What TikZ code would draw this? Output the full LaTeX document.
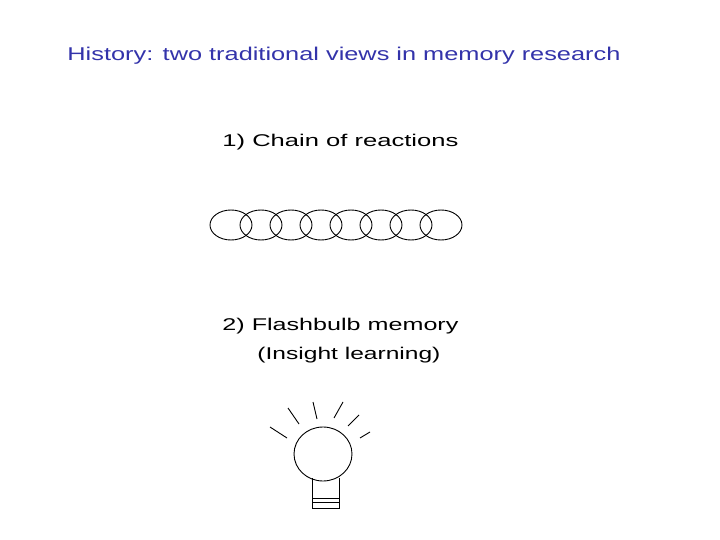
\documentclass[tikz,border=0pt]{standalone}
\usepackage{fontspec}
\usepackage{graphicx}
\setmainfont{Liberation Sans}
\definecolor{ttl}{RGB}{51,51,170}
\begin{document}
\begin{tikzpicture}[x=1pt,y=-1pt,line width=0.9pt,
 lbl/.style={anchor=west,inner sep=0pt,font=\fontsize{17}{20}\selectfont}]
\useasboundingbox (0,0) rectangle (720,540);
\node[lbl,text=ttl,font=\fontsize{18.5}{22}\selectfont] (title) at (67,56) {\resizebox{553pt}{\height}{History: two traditional views in memory research}};
\node[lbl] (t1) at (222,142) {\resizebox{236pt}{\height}{1) Chain of reactions}};
\node[lbl] (t2) at (222,326) {\resizebox{236pt}{\height}{2) Flashbulb memory}};
\node[lbl] (t3) at (257,355) {\resizebox{183pt}{\height}{(Insight learning)}};
\foreach \i in {0,...,7}{
 \draw (231+30*\i,225) ellipse [x radius=21,y radius=15];
}
\draw (323,454) ellipse [x radius=29,y radius=27];
\draw (312,478) -- (312,508) -- (339,508) -- (339,478);
\draw (312,498) -- (339,498);
\draw (312,502) -- (339,502);
\draw (270,427) -- (287,438);
\draw (288,408) -- (299,424);
\draw (313,402) -- (317,419);
\draw (343,402) -- (334,418);
\draw (359,415) -- (348,426);
\draw (370,432) -- (360,438);
\end{tikzpicture}
\end{document}
